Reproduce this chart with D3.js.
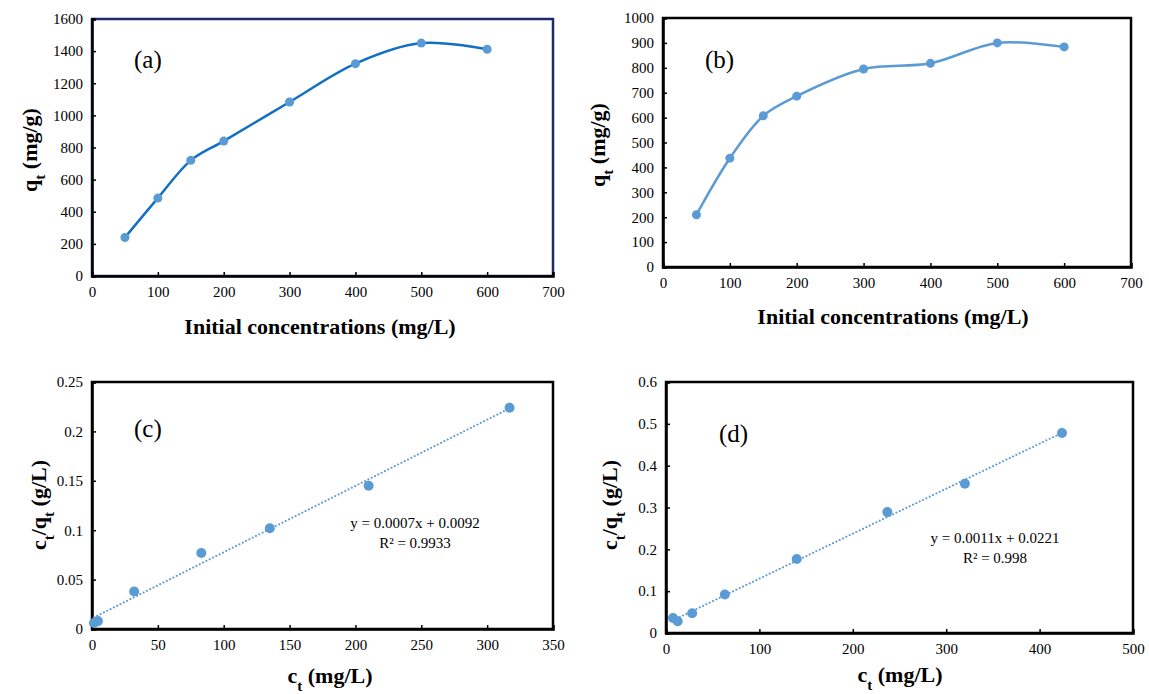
<!DOCTYPE html>
<html lang="en">
<head>
<meta charset="UTF-8">
<title>Adsorption panels</title>
<script src="https://d3js.org/d3.v7.min.js"></script>
<style>
  body { margin: 0; background: #fff; }
  svg text { font-family: "Liberation Serif", "Times New Roman", serif; }
</style>
</head>
<body>
<script>
    // data
    const concA = [50, 100, 150, 200, 300, 400, 500, 600];
    const qtA = [240, 485, 720, 840, 1083, 1322, 1450, 1412];
    const concB = [50, 100, 150, 200, 300, 400, 500, 600];
    const qtB = [210, 437, 607, 686, 795, 818, 900, 884];
    const ctC = [1.5, 4.5, 32, 83, 135, 210, 317];
    const ratioC = [0.006, 0.008, 0.038, 0.077, 0.102, 0.145, 0.224];
    const ctD = [7.5, 12.5, 28, 63, 140, 237, 320, 424];
    const ratioD = [0.036, 0.028, 0.047, 0.092, 0.177, 0.289, 0.357, 0.478];
    const eqC = ["y = 0.0007x + 0.0092", "R² = 0.9933"];
    const eqD = ["y = 0.0011x + 0.0221", "R² = 0.998"];

    const w = 1149, h = 694;
    const marker = "#5B9BD5";
    const serif = "'Liberation Serif', 'Times New Roman', serif";

    const svg = d3.select("body").append("svg")
        .attr("width", w)
        .attr("height", h)
        .attr("viewBox", [0, 0, w, h]);

    svg.append("rect").attr("width", w).attr("height", h).attr("fill", "#fff");

    // draws one framed panel, returns its scales
    function panel(p) {
        const x = d3.scaleLinear().domain(p.xDomain).range([p.left, p.right]);
        const y = d3.scaleLinear().domain(p.yDomain).range([p.bottom, p.top]);
        const g = svg.append("g").attr("font-family", serif);

        // plot area border
        g.append("rect")
            .attr("x", p.left).attr("y", p.top)
            .attr("width", p.right - p.left).attr("height", p.bottom - p.top)
            .attr("fill", "none")
            .attr("stroke", p.frame)
            .attr("stroke-width", 2.5);

        const fmt = p.fmt || (d => d);
        const xAxis = d3.axisBottom(x).tickValues(p.xTicks).tickSize(-4).tickPadding(10).tickFormat(fmt);
        const yAxis = d3.axisLeft(y).tickValues(p.yTicks).tickSize(-4).tickPadding(9).tickFormat(p.yFmt || fmt);

        const gx = g.append("g").attr("transform", `translate(0,${p.bottom})`).call(xAxis);
        const gy = g.append("g").attr("transform", `translate(${p.left},0)`).call(yAxis);
        [gx, gy].forEach(a => {
            a.attr("font-family", serif).attr("font-size", 15);
            a.select(".domain").attr("stroke", "#000").attr("stroke-width", 2.5);
            a.selectAll(".tick line").attr("stroke", "#000").attr("stroke-width", 1.5);
            a.selectAll(".tick text").attr("fill", "#000");
        });

        // panel letter
        g.append("text")
            .attr("x", p.tagX).attr("y", p.tagY)
            .style("font-size", "25px")
            .text(p.tag);

        // x title
        const xt = g.append("text")
            .attr("x", p.xTitleX).attr("y", p.xTitleY)
            .attr("text-anchor", "middle")
            .style("font-size", "22px")
            .style("font-weight", "bold");
        p.xTitle(xt);

        // y title
        const yt = g.append("text")
            .attr("transform", `translate(${p.yTitleX},${p.yTitleY}) rotate(-90)`)
            .attr("text-anchor", "middle")
            .style("font-size", "22px")
            .style("font-weight", "bold");
        p.yTitle(yt);

        return { g, x, y };
    }

    function sub(t, main, s, after) {
        t.append("tspan").text(main);
        t.append("tspan").attr("baseline-shift", "sub").style("font-size", "15px").text(s);
        if (after) t.append("tspan").text(after);
    }

    const initialTitle = t => t.text("Initial concentrations (mg/L)");
    const qtTitle = t => sub(t, "q", "t", " (mg/g)");
    const ctTitle = t => sub(t, "c", "t", " (mg/L)");
    const ratioTitle = t => {
        sub(t, "c", "t");
        t.append("tspan").text("/q");
        t.append("tspan").attr("baseline-shift", "sub").style("font-size", "15px").text("t");
        t.append("tspan").text(" (g/L)");
    };

    function curvePanel(pan, xs, ys, lineColor) {
        const pts = xs.map((v, i) => [pan.x(v), pan.y(ys[i])]);
        pan.g.append("path")
            .attr("d", d3.line().curve(d3.curveCatmullRom.alpha(0.5))(pts))
            .attr("fill", "none")
            .attr("stroke", lineColor)
            .attr("stroke-width", 2.5);
        pan.g.selectAll("circle.pt").data(pts).join("circle")
            .attr("class", "pt")
            .attr("cx", d => d[0]).attr("cy", d => d[1])
            .attr("r", 4.5)
            .attr("fill", marker);
    }

    function fitPanel(pan, xs, ys, eq, eqX, eqY) {
        // least squares trendline like the spreadsheet one
        const mx = d3.mean(xs), my = d3.mean(ys);
        const slope = d3.sum(xs, (v, i) => (v - mx) * (ys[i] - my)) / d3.sum(xs, v => (v - mx) ** 2);
        const icpt = my - slope * mx;
        const [x0, x1] = d3.extent(xs);
        pan.g.append("line")
            .attr("x1", pan.x(x0)).attr("y1", pan.y(icpt + slope * x0))
            .attr("x2", pan.x(x1)).attr("y2", pan.y(icpt + slope * x1))
            .attr("stroke", marker)
            .attr("stroke-width", 2)
            .attr("stroke-linecap", "round")
            .attr("stroke-dasharray", "0.1,3.6");
        pan.g.selectAll("circle.pt").data(xs).join("circle")
            .attr("class", "pt")
            .attr("cx", d => pan.x(d)).attr("cy", (d, i) => pan.y(ys[i]))
            .attr("r", 5)
            .attr("fill", marker);
        eq.forEach((s, i) => {
            pan.g.append("text")
                .attr("x", eqX).attr("y", eqY + i * 20)
                .attr("text-anchor", "middle")
                .style("font-size", "15px")
                .text(s);
        });
    }

    const pa = panel({
        left: 92, right: 553, top: 19, bottom: 276,
        xDomain: [0, 700], yDomain: [0, 1600],
        xTicks: d3.range(0, 701, 100), yTicks: d3.range(0, 1601, 200),
        frame: "#1F2A6B", tag: "(a)", tagX: 134, tagY: 68,
        xTitle: initialTitle, xTitleX: 320, xTitleY: 334,
        yTitle: qtTitle, yTitleX: 37, yTitleY: 150
    });
    curvePanel(pa, concA, qtA, "#1170C3");

    const pb = panel({
        left: 663, right: 1131, top: 18, bottom: 267,
        xDomain: [0, 700], yDomain: [0, 1000],
        xTicks: d3.range(0, 701, 100), yTicks: d3.range(0, 1001, 100),
        frame: "#000", tag: "(b)", tagX: 705, tagY: 68,
        xTitle: initialTitle, xTitleX: 893, xTitleY: 324,
        yTitle: qtTitle, yTitleX: 605, yTitleY: 145
    });
    curvePanel(pb, concB, qtB, marker);

    const fmt2 = d => +d.toFixed(2);
    const pc = panel({
        left: 92, right: 553, top: 382, bottom: 629,
        xDomain: [0, 350], yDomain: [0, 0.25],
        xTicks: d3.range(0, 351, 50), yTicks: d3.range(0, 0.2501, 0.05),
        yFmt: fmt2,
        frame: "#000", tag: "(c)", tagX: 134, tagY: 437,
        xTitle: ctTitle, xTitleX: 330, xTitleY: 683,
        yTitle: ratioTitle, yTitleX: 46, yTitleY: 505
    });
    fitPanel(pc, ctC, ratioC, eqC, 415, 528);

    const pd = panel({
        left: 666, right: 1133, top: 382, bottom: 633,
        xDomain: [0, 500], yDomain: [0, 0.6],
        xTicks: d3.range(0, 501, 100), yTicks: d3.range(0, 0.601, 0.1),
        yFmt: fmt2,
        frame: "#000", tag: "(d)", tagX: 719, tagY: 442,
        xTitle: ctTitle, xTitleX: 900, xTitleY: 682,
        yTitle: ratioTitle, yTitleX: 617, yTitleY: 505
    });
    fitPanel(pd, ctD, ratioD, eqD, 995, 543);
</script>
</body>
</html>
